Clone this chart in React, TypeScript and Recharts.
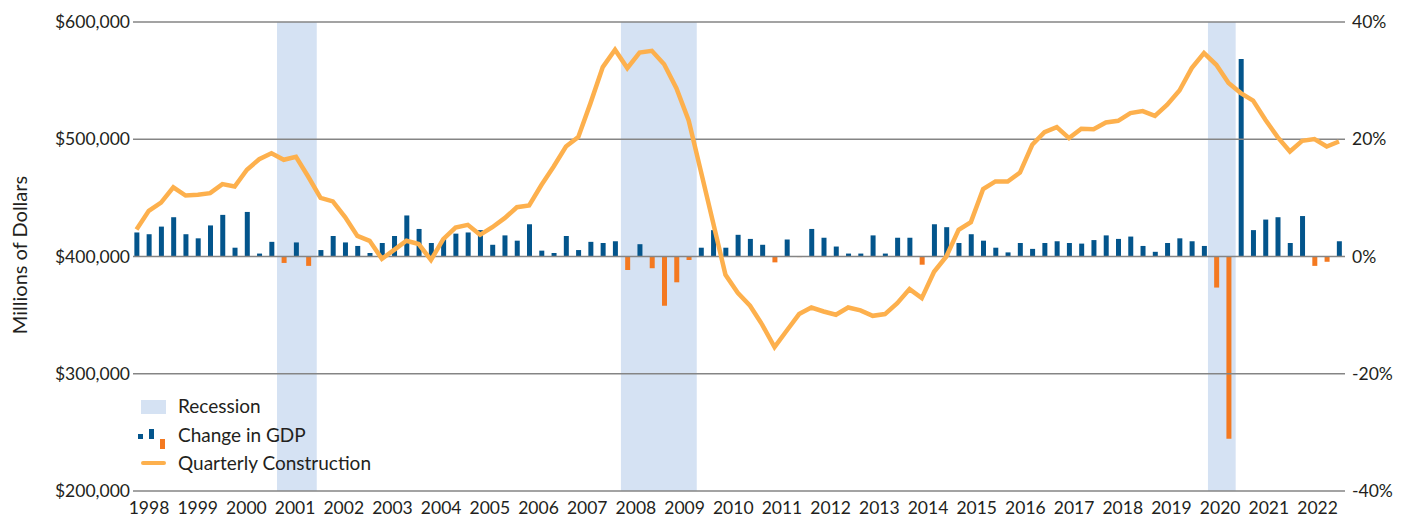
import React from 'react';
import {
  ComposedChart,
  Bar,
  Line,
  XAxis,
  YAxis,
  ReferenceArea,
  ReferenceLine,
  Cell,
} from 'recharts';

// tick labels for the bottom axis
const years = [
  1998, 1999, 2000, 2001, 2002, 2003, 2004, 2005, 2006, 2007, 2008, 2009, 2010,
  2011, 2012, 2013, 2014, 2015, 2016, 2017, 2018, 2019, 2020, 2021, 2022,
];

// annualized change in real GDP, %, 1998 Q1 .. 2022 Q3
const gdpChange = [
  4.1, 3.8, 5.1, 6.7, 3.8, 3.1, 5.3, 7.1, 1.5, 7.6, 0.5, 2.5,
  -1.1, 2.4, -1.6, 1.1, 3.5, 2.4, 1.8, 0.6, 2.3, 3.5, 7.0, 4.7,
  2.3, 3.0, 3.9, 4.1, 4.5, 2.0, 3.6, 2.7, 5.5, 1.0, 0.6, 3.5,
  1.1, 2.5, 2.3, 2.6, -2.3, 2.1, -2.0, -8.4, -4.4, -0.6, 1.5, 4.5,
  1.5, 3.7, 3.0, 2.0, -1.0, 2.9, -0.1, 4.7, 3.2, 1.7, 0.5, 0.5,
  3.6, 0.5, 3.2, 3.2, -1.4, 5.5, 5.0, 2.3, 3.8, 2.7, 1.5, 0.7,
  2.3, 1.3, 2.3, 2.6, 2.3, 2.2, 2.8, 3.6, 3.0, 3.4, 1.8, 0.8,
  2.3, 3.1, 2.6, 1.8, -5.3, -31.1, 33.7, 4.5, 6.3, 6.7, 2.3, 6.9,
  -1.6, -0.9, 2.6,
];

// quarterly construction spending, millions of dollars
const construction = [
  423000, 439000, 446000, 459000, 452000, 452600, 454000, 461700, 459700, 474000, 483000, 488000,
  482500, 485000, 468000, 450000, 447000, 433600, 417600, 413400, 398000, 405700, 413400, 410600,
  397000, 414800, 424700, 427000, 418500, 425000, 432700, 442000, 443500, 461000, 476800, 493800,
  501800, 530800, 561500, 576300, 560700, 574000, 575400, 564000, 543600, 516000, 472500, 428500,
  384400, 369000, 358000, 341700, 322700, 336900, 350900, 356500, 353100, 350300, 356500, 354000,
  349400, 350900, 360200, 372200, 364500, 387000, 400000, 422800, 429300, 457500, 464000, 464000,
  471600, 495300, 506100, 510400, 501000, 508900, 508600, 514300, 515700, 522300, 524000, 520000,
  529400, 541600, 560700, 573500, 563500, 547900, 539400, 533000, 516600, 501800, 489600, 498700,
  500100, 493800, 498100,
];

// recession spans, in quarter positions
const recessions = [
  [11.45, 14.69],
  [39.48, 45.66],
  [87.32, 89.58],
];

const leftTicks = [200000, 300000, 400000, 500000, 600000];
const rightTicks = [-40, -20, 0, 20, 40];

const quarters = years
  .flatMap((y) => [1, 2, 3, 4].map((q) => `${y} Q${q}`))
  .slice(0, construction.length);

const data = construction.map((value, i) => ({
  idx: i,
  quarter: quarters[i],
  construction: value,
  gdp: gdpChange[i],
}));

// year labels sit a little off the quarter grid, as in the source chart
const YEAR_START = 1.02;
const YEAR_STEP = 3.968;
const yearTicks = years.map((_, k) => YEAR_START + k * YEAR_STEP);

const FONT = "Lato, 'Open Sans', sans-serif";
const TEXT = '#231f20';
const BLUE = '#03558c';
const ORANGE = '#f47920';
const LINE = '#fdb04d';
const SHADE = '#d5e2f3';
const GRID = '#858585';

const tickStyle = { fontSize: 17.5, fill: TEXT, fontFamily: FONT };

const renderYLabel = () => (
  <text
    x={19}
    y={255}
    transform="rotate(-90 19 255)"
    textAnchor="middle"
    dominantBaseline="central"
    fontSize={20}
    fill={TEXT}
    fontFamily={FONT}
  >
    Millions of Dollars
  </text>
);

function LegendBox() {
  const row: React.CSSProperties = {
    position: 'absolute',
    left: 0,
    height: 20,
  };
  const label: React.CSSProperties = {
    position: 'absolute',
    left: 41,
    top: -1,
    fontSize: 19,
    color: TEXT,
    whiteSpace: 'nowrap',
    lineHeight: '20px',
  };
  return (
    <div style={{ position: 'absolute', left: 137, top: 397, width: 280, height: 80, fontFamily: FONT }}>
      <div style={{ ...row, top: 0 }}>
        <div style={{ position: 'absolute', left: 4, top: 3, width: 25, height: 14, background: SHADE }} />
        <span style={label}>Recession</span>
      </div>
      <div style={{ ...row, top: 29 }}>
        <div style={{ position: 'absolute', left: 1, top: 8, width: 5, height: 5, background: BLUE }} />
        <div style={{ position: 'absolute', left: 12, top: 3, width: 5, height: 10, background: BLUE }} />
        <div style={{ position: 'absolute', left: 23, top: 13, width: 5, height: 10, background: ORANGE }} />
        <span style={label}>Change in GDP</span>
      </div>
      <div style={{ ...row, top: 57 }}>
        <div style={{ position: 'absolute', left: 4, top: 7, width: 25, height: 4, borderRadius: 2, background: LINE }} />
        <span style={label}>Quarterly Construction</span>
      </div>
    </div>
  );
}

export default function App() {
  return (
    <div
      style={{
        position: 'absolute',
        left: 0,
        top: 0,
        width: 1409,
        height: 515,
        background: '#fff',
        overflow: 'hidden',
        fontFamily: FONT,
      }}
    >
      <ComposedChart
        width={1409}
        height={515}
        data={data}
        margin={{ top: 22, right: 0, left: 0, bottom: 0 }}
      >
        <XAxis
          xAxisId="x"
          dataKey="idx"
          type="number"
          domain={[-0.285, 98.49]}
          allowDataOverflow
          ticks={yearTicks}
          interval={0}
          tickFormatter={(v: number) => String(years[Math.round((v - YEAR_START) / YEAR_STEP)])}
          tick={tickStyle}
          tickLine={false}
          axisLine={false}
          tickSize={6}
          tickMargin={5}
          height={24}
        />
        <YAxis
          yAxisId="left"
          domain={[200000, 600000]}
          ticks={leftTicks}
          tickFormatter={(v: number) => `$${v.toLocaleString('en-US')}`}
          tick={tickStyle}
          tickLine={false}
          axisLine={false}
          tickSize={0}
          tickMargin={3}
          width={133}
          label={{ content: renderYLabel }}
        />
        <YAxis
          yAxisId="right"
          orientation="right"
          domain={[-40, 40]}
          ticks={rightTicks}
          tickFormatter={(v: number) => `${v}%`}
          tick={{ ...tickStyle, textAnchor: 'start' }}
          tickLine={false}
          axisLine={false}
          tickSize={0}
          tickMargin={7}
          width={64}
        />
        {recessions.map(([from, to]) => (
          <ReferenceArea
            key={`rec-${from}`}
            xAxisId="x"
            yAxisId="left"
            x1={from}
            x2={to}
            y1={200000}
            y2={600000}
            fill={SHADE}
            fillOpacity={1}
            stroke="none"
            ifOverflow="hidden"
          />
        ))}
        {leftTicks.map((t) => (
          <ReferenceLine
            key={`grid-${t}`}
            xAxisId="x"
            yAxisId="left"
            y={t}
            stroke={GRID}
            strokeWidth={1.5}
          />
        ))}
        <Bar
          xAxisId="x"
          yAxisId="right"
          dataKey="gdp"
          name="Change in GDP"
          barSize={5}
          isAnimationActive={false}
        >
          {data.map((d, index) => (
            <Cell key={`cell-${index.toString()}`} fill={d.gdp < 0 ? ORANGE : BLUE} />
          ))}
        </Bar>
        <Line
          xAxisId="x"
          yAxisId="left"
          type="linear"
          dataKey="construction"
          name="Quarterly Construction"
          stroke={LINE}
          strokeWidth={4.5}
          dot={false}
          isAnimationActive={false}
        />
      </ComposedChart>
      <LegendBox />
    </div>
  );
}
